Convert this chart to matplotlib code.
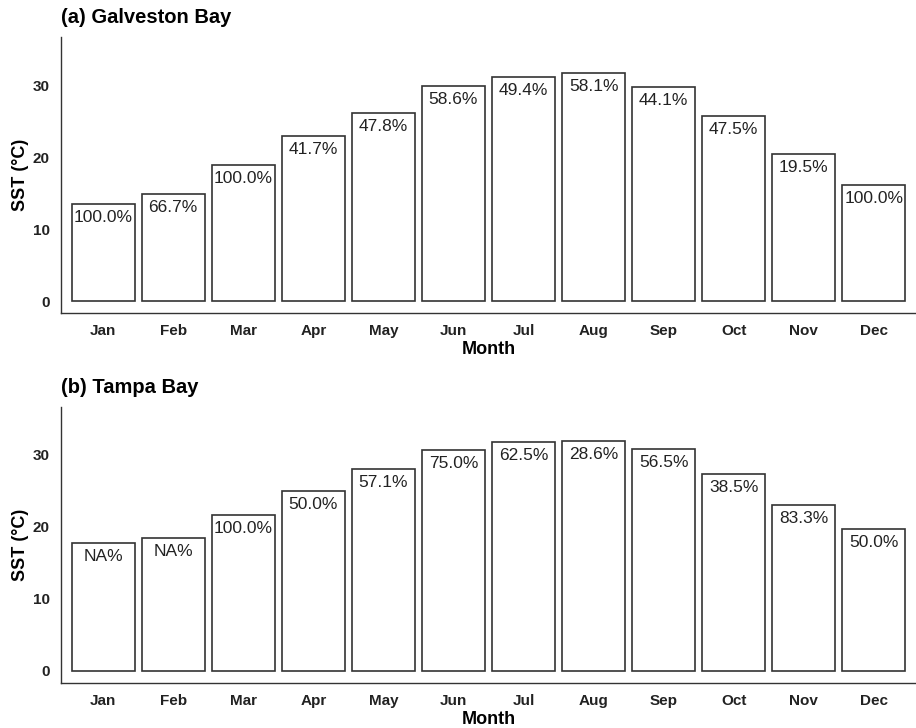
import numpy as np
from matplotlib import pyplot as plt

plt.rcParams['font.family'] = ['Liberation Sans', 'DejaVu Sans']

# Monthly data
months = ['Jan', 'Feb', 'Mar', 'Apr', 'May', 'Jun', 'Jul', 'Aug', 'Sep', 'Oct', 'Nov', 'Dec']

galveston_sst = [13.5, 14.9, 18.9, 23.0, 26.2, 29.9, 31.1, 31.7, 29.8, 25.7, 20.4, 16.1]
galveston_pct = ['100.0%', '66.7%', '100.0%', '41.7%', '47.8%', '58.6%',
                 '49.4%', '58.1%', '44.1%', '47.5%', '19.5%', '100.0%']

tampa_sst = [17.8, 18.5, 21.7, 25.0, 28.1, 30.7, 31.8, 31.9, 30.8, 27.4, 23.0, 19.7]
tampa_pct = ['NA%', 'NA%', '100.0%', '50.0%', '57.1%', '75.0%',
             '62.5%', '28.6%', '56.5%', '38.5%', '83.3%', '50.0%']

panels = [
    ('(a) Galveston Bay', galveston_sst, galveston_pct, [0.0666, 0.5701, 0.9334, 0.3791]),
    ('(b) Tampa Bay', tampa_sst, tampa_pct, [0.0666, 0.0622, 0.9334, 0.3791]),
]

fig = plt.figure(figsize=(9.16, 7.28), dpi=100)

for title, sst, pct, rect in panels:
    ax = fig.add_axes(rect)
    x = np.arange(1, len(months) + 1)
    ax.bar(x, sst, width=0.9, color='white', edgecolor='#333333', linewidth=1.2)

    # percentage labels just inside the top of each bar
    for xi, yi, lab in zip(x, sst, pct):
        ax.annotate(lab, (xi, yi), xytext=(0, -13), textcoords='offset points',
                    ha='center', va='baseline', fontsize=12.5, color='#222222')

    ax.set_xlim(0.4, 12.6)
    ax.set_ylim(-1.65, 36.7)
    ax.set_xticks(x)
    ax.set_xticklabels(months)
    ax.set_yticks([0, 10, 20, 30])
    ax.tick_params(length=0, labelsize=11, labelcolor='#222222', pad=8)
    for lab in ax.get_xticklabels() + ax.get_yticklabels():
        lab.set_fontweight('bold')

    ax.set_xlabel('Month', fontsize=13, fontweight='bold', labelpad=2)
    ax.set_ylabel('SST (°C)', fontsize=13, fontweight='bold', labelpad=3)
    ax.set_title(title, loc='left', fontsize=14.5, fontweight='bold', pad=10)

    # classic theme: only left and bottom axis lines
    ax.spines['top'].set_visible(False)
    ax.spines['right'].set_visible(False)
    ax.spines['left'].set_color('#333333')
    ax.spines['bottom'].set_color('#333333')
    ax.spines['left'].set_linewidth(1.0)
    ax.spines['bottom'].set_linewidth(1.0)

plt.savefig('out.png', dpi=100)
